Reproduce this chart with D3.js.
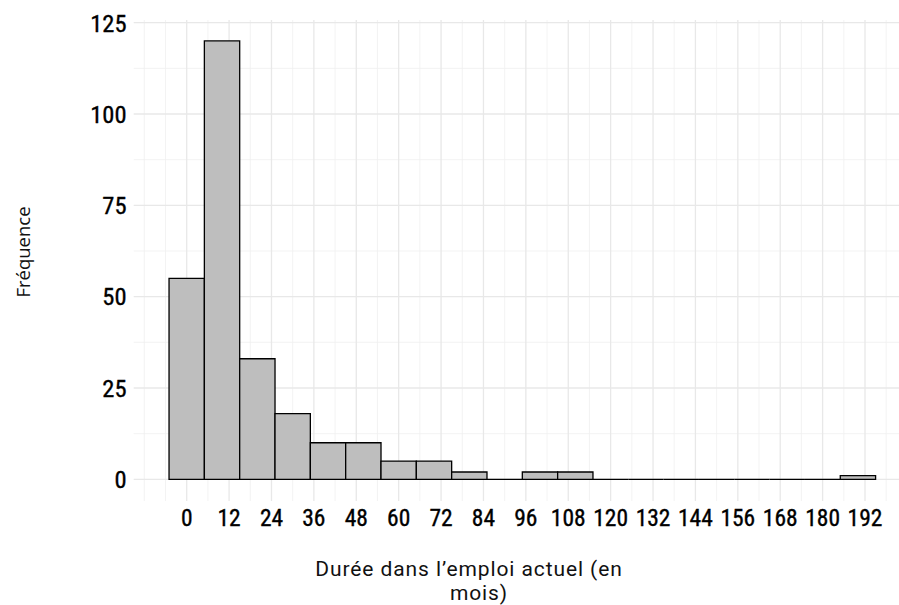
<!DOCTYPE html>
<html><head><meta charset="utf-8">
<script src="https://cdn.jsdelivr.net/npm/d3@7"></script>
<style>body{margin:0;background:#fff;} svg{display:block;}</style>
</head><body>
<svg id="chart" width="899" height="605"></svg>
<script>
const binCenters = [0,10,20,30,40,50,60,70,80,90,100,110,120,130,140,150,160,170,180,190];
const counts = [55,120,33,18,10,10,5,5,2,0,2,2,0,0,0,0,0,0,0,1];
const binWidth = 10;
const xTicks = [0,12,24,36,48,60,72,84,96,108,120,132,144,156,168,180,192];
const xMinor = [-12,-6,6,18,30,42,54,66,78,90,102,114,126,138,150,162,174,186,198,204];
const yTicks = [0,25,50,75,100,125];
const yMinor = [12.5,37.5,62.5,87.5,112.5];
const xTitle1 = "Durée dans l’emploi actuel (en";
const xTitle2 = "mois)";
const yTitle = "Fréquence";

const svg = d3.select("#chart");
const x = d3.scaleLinear().domain([0,192]).range([186.7,865]);
const y = d3.scaleLinear().domain([0,125]).range([479.3,22.7]);
const panel = {left: x(-15), right: x(205), top: 20, bottom: 501};
const tickFont = "'Roboto Condensed','Liberation Sans Narrow',Roboto,sans-serif";

const g = svg.append("g");
g.selectAll(".ymin").data(yMinor).join("line")
 .attr("x1",panel.left).attr("x2",panel.right).attr("y1",d=>y(d)).attr("y2",d=>y(d))
 .attr("stroke","#f0f0f0").attr("stroke-width",0.8);
g.selectAll(".xmin").data(xMinor).join("line")
 .attr("y1",panel.top).attr("y2",panel.bottom).attr("x1",d=>x(d)).attr("x2",d=>x(d))
 .attr("stroke","#f0f0f0").attr("stroke-width",0.8);
g.selectAll(".ymaj").data(yTicks).join("line")
 .attr("x1",panel.left).attr("x2",panel.right).attr("y1",d=>y(d)).attr("y2",d=>y(d))
 .attr("stroke","#e8e8e8").attr("stroke-width",1.3);
g.selectAll(".xmaj").data(xTicks).join("line")
 .attr("y1",panel.top).attr("y2",panel.bottom).attr("x1",d=>x(d)).attr("x2",d=>x(d))
 .attr("stroke","#e8e8e8").attr("stroke-width",1.3);

g.selectAll(".bar").data(binCenters.map((c,i)=>({c, n:counts[i]}))).join("path")
 .attr("d",d=>{
   const x0=x(d.c-binWidth/2), x1=x(d.c+binWidth/2), y0=y(0), y1=y(d.n);
   return `M${x0},${y0}L${x0},${y1}L${x1},${y1}L${x1},${y0}Z`;
 })
 .attr("fill","#bebebe").attr("stroke","#000").attr("stroke-width",1.3);

svg.append("g").selectAll("text").data(yTicks).join("text")
 .attr("x",126.5).attr("y",d=>y(d)).attr("dy","0.36em").attr("text-anchor","end")
 .attr("font-family",tickFont).attr("font-size",24.5).attr("fill","#000")
 .attr("stroke","#000").attr("stroke-width",0.35)
 .text(d=>d);
svg.append("g").selectAll("text").data(xTicks).join("text")
 .attr("x",d=>x(d)).attr("y",526).attr("text-anchor","middle")
 .attr("font-family",tickFont).attr("font-size",23.5).attr("fill","#000")
 .attr("stroke","#000").attr("stroke-width",0.35)
 .text(d=>d);

svg.append("text").attr("x",469).attr("y",576).attr("text-anchor","middle")
 .attr("font-family","Roboto,sans-serif").attr("font-size",21).attr("letter-spacing",0.9).attr("fill","#111").text(xTitle1);
svg.append("text").attr("x",479).attr("y",600).attr("text-anchor","middle")
 .attr("font-family","Roboto,sans-serif").attr("font-size",21).attr("letter-spacing",0.9).attr("fill","#111").text(xTitle2);

svg.append("text").attr("transform","translate(30,252) rotate(-90)").attr("text-anchor","middle")
 .attr("font-family","'Open Sans','Noto Sans',sans-serif").attr("font-size",18.5).attr("fill","#111").text(yTitle);
</script>
</body></html>
